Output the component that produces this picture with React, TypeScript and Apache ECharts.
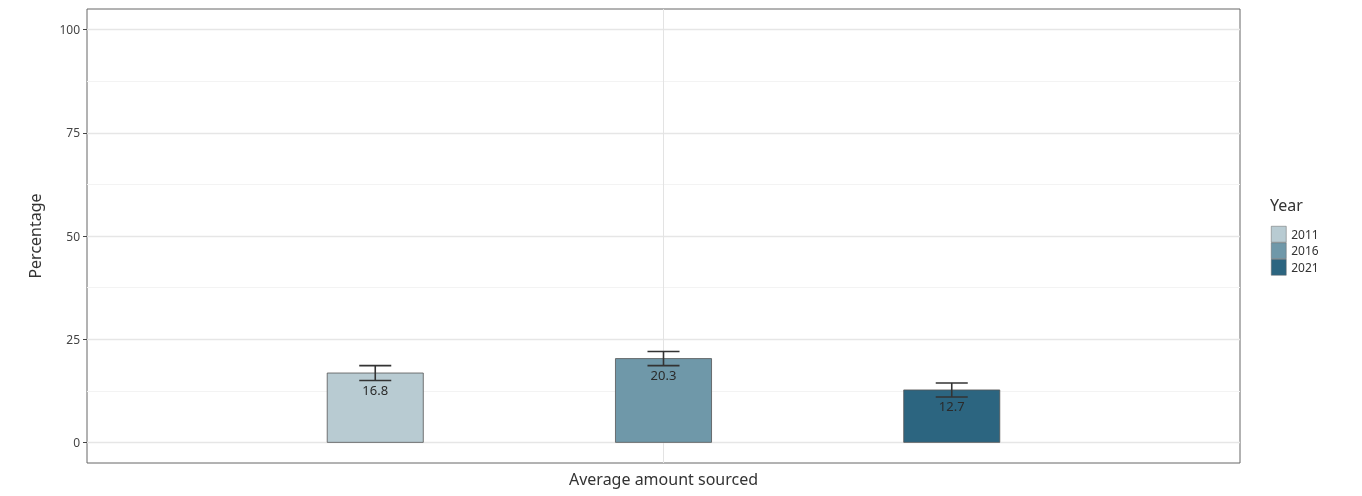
import React, { useEffect, useRef } from "react";
import * as echarts from "echarts";

const years = ["2011", "2016", "2021"];
const values = [16.8, 20.3, 12.7];
const errors = [1.8, 1.7, 1.7];
const colors = ["#b8cbd2", "#6f98a9", "#2c6580"];
const yTicks = [0, 25, 50, 75, 100];
const yMinor = [12.5, 37.5, 62.5, 87.5];
const categoryLabel = "Average amount sourced";

const FONT = "'Noto Sans', 'Open Sans', sans-serif";
const DODGE = 0.3;
const BAR_W = 0.1;

export default function App() {
  const ref = useRef<HTMLDivElement>(null);
  useEffect(() => {
    if (!ref.current) return;
    const chart = echarts.init(ref.current, null, { renderer: "svg" });
    const series: any[] = years.map((yr, i) => ({
      name: yr,
      type: "custom",
      itemStyle: { color: colors[i], borderColor: "#666", borderWidth: 0.5 },
      data: [[1 + (i - 1) * DODGE, values[i], errors[i]]],
      renderItem: (params: any, api: any) => {
        const x = api.value(0);
        const v = api.value(1);
        const e = api.value(2);
        const p0 = api.coord([x - BAR_W / 2, 0]);
        const p1 = api.coord([x + BAR_W / 2, v]);
        const c = api.coord([x, v]);
        const hi = api.coord([x, v + e]);
        const lo = api.coord([x, v - e]);
        const capHalf = (p1[0] - p0[0]) / 6;
        return {
          type: "group",
          children: [
            {
              type: "rect",
              shape: { x: p0[0], y: p1[1], width: p1[0] - p0[0], height: p0[1] - p1[1] },
              style: { fill: colors[i], stroke: "#555", lineWidth: 0.8 },
            },
            {
              type: "line",
              shape: { x1: c[0], y1: hi[1], x2: c[0], y2: lo[1] },
              style: { stroke: "#333", lineWidth: 1.6 },
            },
            {
              type: "line",
              shape: { x1: c[0] - capHalf, y1: hi[1], x2: c[0] + capHalf, y2: hi[1] },
              style: { stroke: "#333", lineWidth: 1.6 },
            },
            {
              type: "line",
              shape: { x1: c[0] - capHalf, y1: lo[1], x2: c[0] + capHalf, y2: lo[1] },
              style: { stroke: "#333", lineWidth: 1.6 },
            },
            {
              type: "text",
              x: c[0],
              y: c[1] + 10,
              style: {
                text: v.toFixed(1),
                fill: "#2a2a2a",
                font: `13px ${FONT}`,
                align: "center",
                verticalAlign: "top",
              },
            },
          ],
        };
      },
      z: 5,
    }));

    series.push({
      type: "line",
      data: [],
      silent: true,
      markLine: {
        silent: true,
        symbol: "none",
        label: { show: false },
        animation: false,
        data: [
          ...yMinor.map((y) => ({ yAxis: y, lineStyle: { color: "#f3f3f3", width: 1, type: "solid" } })),
          ...yTicks.map((y) => ({ yAxis: y, lineStyle: { color: "#e6e6e6", width: 1.3, type: "solid" } })),
          { xAxis: 1, lineStyle: { color: "#e3e3e3", width: 1, type: "solid" } },
        ],
      },
      z: 1,
    });

    chart.setOption({
      animation: false,
      textStyle: { fontFamily: FONT },
      grid: {
        left: 87,
        right: 122,
        top: 9,
        bottom: 33,
        outerBoundsMode: "none",
        containLabel: false,
        show: true,
        borderColor: "#666",
        borderWidth: 1,
        backgroundColor: "transparent",
      },
      xAxis: {
        type: "value",
        min: 0.4,
        max: 1.6,
        name: categoryLabel,
        nameLocation: "middle",
        nameGap: 8,
        nameTextStyle: { fontSize: 16, color: "#333", fontFamily: FONT },
        axisLine: { show: false },
        axisTick: { show: false },
        axisLabel: { show: false },
        splitLine: { show: false },
      },
      yAxis: {
        type: "value",
        min: -5,
        max: 105,
        name: "Percentage",
        nameLocation: "middle",
        nameGap: 44,
        nameTextStyle: { fontSize: 16, color: "#333", fontFamily: FONT },
        axisLine: { show: false },
        axisTick: { show: true, customValues: yTicks, length: 4, lineStyle: { color: "#444" } },
        axisLabel: { customValues: yTicks, fontSize: 12, color: "#444", margin: 7, fontFamily: FONT },
        splitLine: { show: false },
      },
      legend: {
        data: years,
        orient: "vertical",
        left: 1266,
        top: 221,
        itemWidth: 15,
        itemHeight: 16,
        itemGap: 0,
        icon: "rect",
        selectedMode: false,
        itemStyle: { borderWidth: 0.5, borderColor: "#666" },
        textStyle: { fontSize: 12, color: "#333", fontFamily: FONT },
      },
      graphic: [
        {
          type: "text",
          left: 1270,
          top: 197,
          style: { text: "Year", font: `16px ${FONT}`, fill: "#333" },
        },
      ],
      series,
    });
    return () => chart.dispose();
  }, []);
  return <div ref={ref} style={{ position: "fixed", left: 0, top: 0, width: 1362, height: 496 }} />;
}
